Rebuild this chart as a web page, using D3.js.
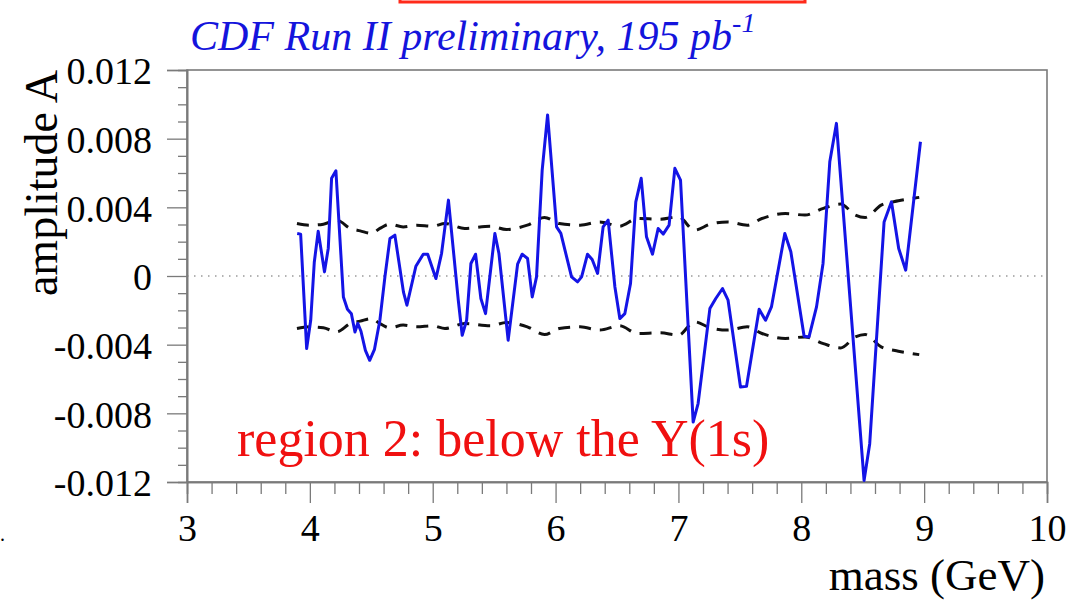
<!DOCTYPE html>
<html>
<head>
<meta charset="utf-8">
<script src="https://cdn.jsdelivr.net/npm/d3@7"></script>
<style>
  html, body { margin: 0; padding: 0; background: #fff; }
  svg { display: block; }
  text { font-family: "Liberation Serif", "DejaVu Serif", serif; }
</style>
</head>
<body>
<svg id="chart" width="1074" height="603"></svg>
<script>
// Fitted amplitude vs. test mass (GeV)
const masses = [3.897, 3.925, 3.974, 4.007, 4.036, 4.068, 4.119, 4.150, 4.177, 4.212,
  4.273, 4.306, 4.338, 4.367, 4.390, 4.416, 4.452, 4.487, 4.526, 4.570,
  4.611, 4.652, 4.692, 4.762, 4.790, 4.863, 4.923, 4.959, 5.026, 5.072,
  5.128, 5.208, 5.240, 5.276, 5.311, 5.349, 5.392, 5.430, 5.506, 5.539,
  5.614, 5.691, 5.728, 5.772, 5.810, 5.845, 5.891, 5.935, 6.008, 6.043,
  6.130, 6.179, 6.212, 6.260, 6.298, 6.342, 6.387, 6.428, 6.483, 6.523,
  6.564, 6.610, 6.653, 6.697, 6.740, 6.789, 6.835, 6.876, 6.924, 6.971,
  7.017, 7.120, 7.160, 7.256, 7.304, 7.359, 7.404, 7.505, 7.554, 7.657,
  7.709, 7.757, 7.866, 7.915, 8.023, 8.063, 8.124, 8.177, 8.232, 8.286,
  8.511, 8.557, 8.674, 8.734, 8.793, 8.850, 8.970];
const amplitude = [0.00248, 0.00244, -0.00423, -0.00258, 0.00080, 0.00261, 0.00024, 0.00162, 0.00570, 0.00613,
  -0.00122, -0.00194, -0.00220, -0.00326, -0.00275, -0.00322, -0.00433, -0.00491, -0.00427, -0.00258,
  -0.00005, 0.00219, 0.00238, -0.00094, -0.00170, 0.00057, 0.00127, 0.00127, -0.00015, 0.00131,
  0.00442, -0.00141, -0.00345, -0.00258, 0.00073, 0.00127, -0.00131, -0.00219, 0.00248, 0.00131,
  -0.00374, 0.00069, 0.00127, 0.00102, -0.00122, -0.00005, 0.00617, 0.00938, 0.00286, 0.00248,
  -0.00005, -0.00034, -0.00005, 0.00127, 0.00096, 0.00015, 0.00286, 0.00325, -0.00064, -0.00248,
  -0.00219, -0.00044, 0.00432, 0.00569, 0.00228, 0.00127, 0.00277, 0.00244, 0.00296, 0.00627,
  0.00559, -0.00851, -0.00743, -0.00190, -0.00131, -0.00073, -0.00141, -0.00647, -0.00643, -0.00194,
  -0.00258, -0.00180, 0.00248, 0.00141, -0.00351, -0.00355, -0.00180, 0.00073, 0.00665, 0.00889,
  -0.01191, -0.00977, 0.00315, 0.00432, 0.00160, 0.00034, 0.00782];

// Expected 1-sigma band (drawn as +/- band)
const bandMasses = [3.895, 4.00, 4.11, 4.22, 4.33, 4.41, 4.50, 4.57, 4.65, 4.76,
  4.87, 5.00, 5.10, 5.26, 5.47, 5.60, 5.77, 5.91, 6.03, 6.20,
  6.36, 6.52, 6.67, 6.85, 7.00, 7.13, 7.26, 7.40, 7.56, 7.68,
  7.87, 8.03, 8.18, 8.32, 8.44, 8.52, 8.65, 8.79, 8.96];
const bandSigma = [0.00306, 0.00296, 0.00302, 0.00325, 0.00277, 0.00263, 0.00248, 0.00277, 0.00302, 0.00286,
  0.00296, 0.00290, 0.00306, 0.00277, 0.00290, 0.00271, 0.00296, 0.00341, 0.00306, 0.00296,
  0.00315, 0.00290, 0.00335, 0.00331, 0.00345, 0.00267, 0.00302, 0.00315, 0.00296, 0.00335,
  0.00364, 0.00355, 0.00394, 0.00419, 0.00355, 0.00341, 0.00413, 0.00438, 0.00458];

// Axis ticks and labels
const xTicks = [3, 4, 5, 6, 7, 8, 9, 10];
const xTickLabels = ["3", "4", "5", "6", "7", "8", "9", "10"];
const yTicks = [-0.012, -0.008, -0.004, 0, 0.004, 0.008, 0.012];
const yTickLabels = ["-0.012", "-0.008", "-0.004", "0", "0.004", "0.008", "0.012"];

const svg = d3.select("#chart");
const plotLeft = 187, plotRight = 1047, plotTop = 70, plotBottom = 482;

const x = d3.scaleLinear().domain([3, 10]).range([plotLeft, plotRight]);
const y = d3.scaleLinear().domain([-0.012, 0.012]).range([plotBottom, plotTop]);

const axisColor = "#7a7a7a";

// header box remnant at the top edge
svg.append("rect")
  .attr("x", 400).attr("y", -20).attr("width", 405).attr("height", 22)
  .attr("fill", "none").attr("stroke", "#ff2a1a").attr("stroke-width", 3);

// title
const title = svg.append("text")
  .attr("x", 190).attr("y", 50)
  .attr("fill", "#1414dc")
  .attr("font-style", "italic")
  .attr("font-size", 42)
  .text("CDF Run II preliminary, 195 pb");
title.append("tspan")
  .attr("dy", -18).attr("font-size", 28)
  .text("-1");

// frame
svg.append("rect")
  .attr("x", plotLeft).attr("y", plotTop)
  .attr("width", plotRight - plotLeft).attr("height", plotBottom - plotTop)
  .attr("fill", "none").attr("stroke", axisColor).attr("stroke-width", 1.6);

// zero line
svg.append("line")
  .attr("x1", plotLeft).attr("x2", plotRight)
  .attr("y1", y(0)).attr("y2", y(0))
  .attr("stroke", "#9a9a9a").attr("stroke-width", 1.4)
  .attr("stroke-dasharray", "1.5,5.5");

// minor ticks
const xMinor = d3.range(3, 10.0001, 0.2).filter(v => Math.abs(v - Math.round(v)) > 1e-6);
const yMinor = d3.range(-0.012, 0.01201, 0.001).filter(v => Math.abs(v / 0.004 - Math.round(v / 0.004)) > 1e-6);

const gxMinor = svg.append("g").attr("transform", `translate(0,${plotBottom})`)
  .call(d3.axisBottom(x).tickValues(xMinor).tickSize(12).tickFormat(""));
const gyMinor = svg.append("g").attr("transform", `translate(${plotLeft},0)`)
  .call(d3.axisLeft(y).tickValues(yMinor).tickSize(9).tickFormat(""));

const gx = svg.append("g").attr("transform", `translate(0,${plotBottom})`)
  .call(d3.axisBottom(x).tickValues(xTicks).tickSize(21).tickPadding(11)
    .tickFormat((d, i) => xTickLabels[i]));
const gy = svg.append("g").attr("transform", `translate(${plotLeft},0)`)
  .call(d3.axisLeft(y).tickValues(yTicks).tickSize(20).tickPadding(15)
    .tickFormat((d, i) => yTickLabels[i]));

[gxMinor, gyMinor, gx, gy].forEach(g => {
  g.select(".domain").attr("stroke", axisColor).attr("stroke-width", 1.6);
  g.selectAll(".tick line").attr("stroke", axisColor).attr("stroke-width", 1.3);
  g.selectAll(".tick text")
    .attr("fill", "#000")
    .attr("font-family", "Liberation Serif")
    .attr("font-size", 38);
});
gy.selectAll(".tick text").attr("dy", "0.36em");

// axis titles
svg.append("text")
  .attr("transform", `translate(57,${183}) rotate(-90)`)
  .attr("text-anchor", "middle")
  .attr("font-size", 46)
  .attr("fill", "#000")
  .text("amplitude A");

svg.append("text")
  .attr("x", 1045).attr("y", 590)
  .attr("text-anchor", "end")
  .attr("font-size", 45)
  .attr("fill", "#000")
  .text("mass (GeV)");

// stray mark at the left edge
svg.append("text")
  .attr("x", 0).attr("y", 541)
  .attr("font-size", 20)
  .attr("fill", "#000")
  .text(".");

// +/- sigma band
const bandData = bandMasses.map((m, i) => ({ m, s: bandSigma[i] }));
const bandUp = d3.line().x(d => x(d.m)).y(d => y(d.s)).curve(d3.curveMonotoneX);
const bandDn = d3.line().x(d => x(d.m)).y(d => y(-d.s)).curve(d3.curveMonotoneX);
[bandUp, bandDn].forEach(gen => {
  svg.append("path")
    .datum(bandData)
    .attr("d", gen)
    .attr("fill", "none")
    .attr("stroke", "#111")
    .attr("stroke-width", 3)
    .attr("stroke-dasharray", "12,9");
});

// amplitude curve
const series = masses.map((m, i) => ({ m, a: amplitude[i] }));
svg.append("path")
  .datum(series)
  .attr("d", d3.line().x(d => x(d.m)).y(d => y(d.a)))
  .attr("fill", "none")
  .attr("stroke", "#1414e6")
  .attr("stroke-width", 3)
  .attr("stroke-linejoin", "round");

// region label
svg.append("text")
  .attr("x", 237).attr("y", 456)
  .attr("font-size", 52)
  .attr("fill", "#f01010")
  .text("region 2: below the Y(1s)");
</script>
</body>
</html>
